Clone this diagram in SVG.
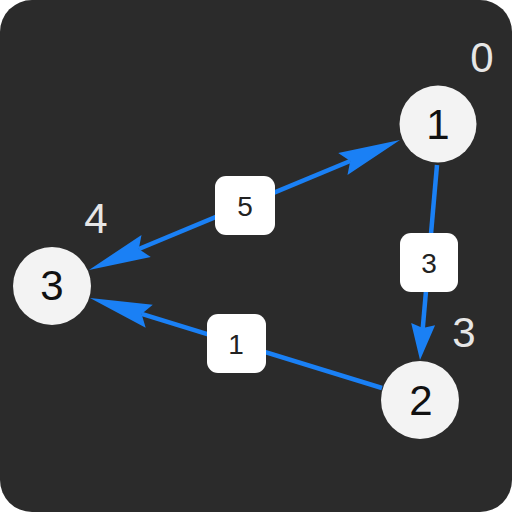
<svg xmlns="http://www.w3.org/2000/svg" xmlns:xlink="http://www.w3.org/1999/xlink" width="512" height="512" viewBox="0 0 512 512">
  <style>
    .edge { stroke: #1a80f5; stroke-width: 4.5; fill: none; }
    .head { fill: #1a80f5; }
    .node circle { fill: #f3f3f3; }
    .node text { font-family: "Liberation Sans", Arial, sans-serif; font-size: 42px; fill: #111; text-anchor: middle; }
    .box rect { fill: #ffffff; }
    .box text { font-family: "Liberation Sans", Arial, sans-serif; font-size: 28px; fill: #222; text-anchor: middle; }
    .dist { font-family: "Liberation Sans", Arial, sans-serif; font-size: 42px; fill: #e6e6e6; text-anchor: middle; }
  </style>
  <defs>
    <path id="headLong" class="head" d="M0,0 L-62,-12 L-54,0 L-62,12 Z"/>
    <path id="headShort" class="head" d="M0,0 L-36,-12 L-32,0 L-36,12 Z"/>
  </defs>
  <rect x="0" y="0" width="512" height="512" fill="#ffffff"/>
  <rect x="0" y="0" width="512" height="512" rx="32" ry="32" fill="#2b2b2b"/>

  <g id="connectors">
    <line class="edge" x1="138.8" y1="249" x2="350.2" y2="161"/>
    <use xlink:href="#headLong" href="#headLong" transform="translate(400,140) rotate(-22.8)"/>
    <use xlink:href="#headLong" href="#headLong" transform="translate(89,270) rotate(157.2)"/>
    <line class="edge" x1="382" y1="388" x2="141.6" y2="313.9"/>
    <use xlink:href="#headLong" href="#headLong" transform="translate(90,298) rotate(197.2)"/>
    <line class="edge" x1="437" y1="165" x2="422.6" y2="330"/>
    <use xlink:href="#headShort" href="#headShort" transform="translate(420,360) rotate(95)"/>
  </g>

  <g id="label-5" class="box">
    <rect x="215" y="176" width="60" height="59" rx="11"/>
    <text x="245" y="216">5</text>
  </g>
  <g id="label-3" class="box">
    <rect x="400" y="233" width="58" height="59" rx="11"/>
    <text x="429" y="273">3</text>
  </g>
  <g id="label-1" class="box">
    <rect x="207" y="314" width="59" height="59" rx="11"/>
    <text x="236" y="354">1</text>
  </g>

  <g id="node-1" class="node">
    <circle cx="438" cy="124" r="38.5"/>
    <text x="438" y="139">1</text>
  </g>
  <g id="node-2" class="node">
    <circle cx="420" cy="400" r="39"/>
    <text x="421" y="415">2</text>
  </g>
  <g id="node-3" class="node">
    <circle cx="52" cy="286" r="39"/>
    <text x="52" y="300">3</text>
  </g>

  <g id="distances">
    <text class="dist" x="482" y="72">0</text>
    <text class="dist" x="464" y="347">3</text>
    <text class="dist" x="96" y="233">4</text>
  </g>
</svg>
